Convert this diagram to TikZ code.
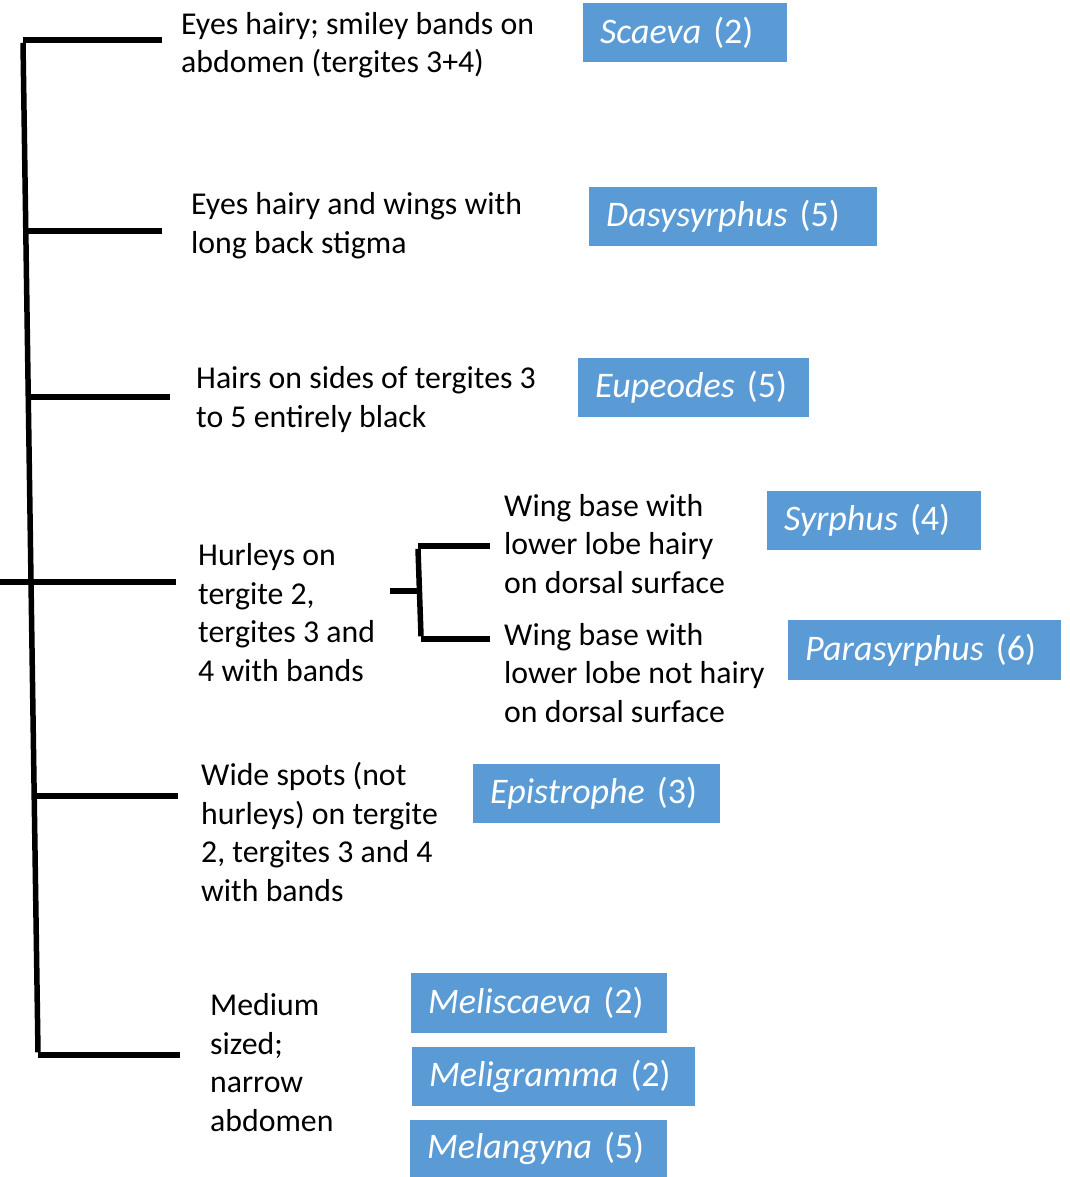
\documentclass[tikz,border=0pt]{standalone}
\usepackage{fontspec}
\setmainfont{Carlito}
\definecolor{boxblue}{HTML}{5B9BD5}
\begin{document}
\begin{tikzpicture}[x=1pt,y=-1pt,
  branch/.style={line width=5.5pt},
  key/.style={anchor=base west, align=left, inner sep=0pt, font=\fontsize{31.8}{38.4}\selectfont},
  taxon/.style={fill=boxblue, text=white, anchor=north west, inner xsep=17pt, inner ysep=0pt,
     align=left, font=\fontsize{36}{40}\selectfont}]
\useasboundingbox (0,0) rectangle (1069,1177);
% trunk coordinates
\coordinate (t1) at (23,40);
\coordinate (t2) at (25.8,231);
\coordinate (t3) at (28.3,397);
\coordinate (t4) at (31,582);
\coordinate (t5) at (34.2,796);
\coordinate (t6) at (38,1055);
\coordinate (e1) at (162,40);
\coordinate (e2) at (162,231);
\coordinate (e3) at (170,397);
\coordinate (e4) at (176,582);
\coordinate (e5) at (178,796);
\coordinate (e6) at (180,1055);
\coordinate (s0) at (0,582);
% sub-branch coordinates
\coordinate (sb) at (390,591);
\coordinate (sj) at (418.5,591);
\coordinate (su) at (418,546);
\coordinate (sl) at (421,639);
\coordinate (eu) at (490,546);
\coordinate (el) at (490,639);

\draw[branch] ([yshift=-2.75]t1) -- ([yshift=2.75]t6);
\draw[branch] (t1) -- (e1);
\draw[branch] (t2) -- (e2);
\draw[branch] (t3) -- (e3);
\draw[branch] (s0) -- (t4) -- (e4);
\draw[branch] (t5) -- (e5);
\draw[branch] (t6) -- (e6);
\draw[branch] (sb) -- (sj);
\draw[branch] ([yshift=-2.75]su) -- ([yshift=2.75]sl);
\draw[branch] (su) -- (eu);
\draw[branch] (sl) -- (el);

% key texts (anchored at baseline of last line)
\node[key] (k1) at (181,73) {Eyes hairy; smiley bands on\\abdomen (tergites 3+4)};
\node[key] (k2) at (191,253) {Eyes hairy and wings with\\long back stigma};
\node[key] (k3) at (196,427) {Hairs on sides of tergites 3\\to 5 entirely black};
\node[key] (k4) at (198,681) {Hurleys on\\tergite 2,\\tergites 3 and\\4 with bands};
\node[key] (k4a) at (504,593) {Wing base with\\lower lobe hairy\\on dorsal surface};
\node[key] (k4b) at (504,722) {Wing base with\\lower lobe not hairy\\on dorsal surface};
\node[key] (k5) at (201,901) {Wide spots (not\\hurleys) on tergite\\2, tergites 3 and 4\\with bands};
\node[key] (k6) at (210,1131) {Medium\\sized;\\narrow\\abdomen};

% taxa
\node[taxon, text width=170pt, minimum height=59pt] (g1) at (583,3) {{\itshape Scaeva} (2)};
\node[taxon, text width=254pt, minimum height=59pt] (g2) at (589,187) {{\itshape Dasysyrphus} (5)};
\node[taxon, text width=197pt, minimum height=59pt] (g3) at (578,358) {{\itshape Eupeodes} (5)};
\node[taxon, text width=180pt, minimum height=59pt] (g4) at (767,491) {{\itshape Syrphus} (4)};
\node[taxon, text width=239pt, minimum height=60pt] (g5) at (788,620) {{\itshape Parasyrphus} (6)};
\node[taxon, text width=213pt, minimum height=59pt] (g6) at (473,764) {{\itshape Epistrophe} (3)};
\node[taxon, text width=222pt, minimum height=60pt] (g7) at (411,973) {{\itshape Meliscaeva} (2)};
\node[taxon, text width=249pt, minimum height=59pt] (g8) at (412,1047) {{\itshape Meligramma} (2)};
\node[taxon, text width=223pt, minimum height=57pt] (g9) at (410,1120) {{\itshape Melangyna} (5)};
\end{tikzpicture}
\end{document}
